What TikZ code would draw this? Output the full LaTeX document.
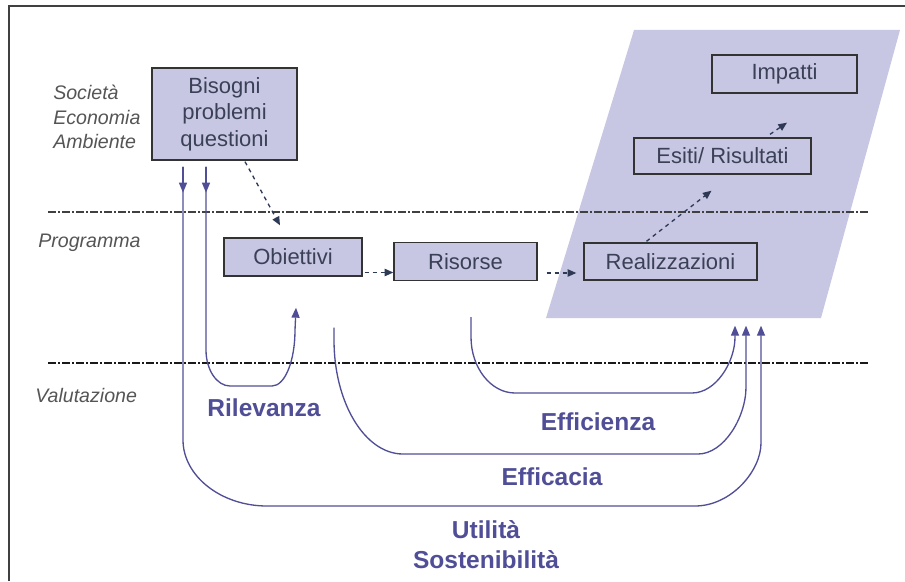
\documentclass[tikz,border=0pt]{standalone}
\usepackage{fontspec}
\setmainfont{Liberation Sans}
\usepackage{xcolor}
\usetikzlibrary{arrows.meta,calc}

\definecolor{boxfill}{RGB}{200,199,227}
\definecolor{boxtext}{RGB}{58,64,86}
\definecolor{flowblue}{RGB}{80,78,150}
\definecolor{labgray}{RGB}{85,85,85}
\definecolor{linkdark}{RGB}{46,58,85}

\begin{document}
\begin{tikzpicture}[x=0.75pt,y=0.75pt,yscale=-1,xscale=1,
  box/.style={draw=black!80,line width=1pt,fill=boxfill,text=boxtext,font=\fontsize{16.5}{20}\selectfont,align=center,inner sep=0pt},
  lab/.style={anchor=west,text=labgray,font=\fontsize{14.7}{18.4}\selectfont\itshape,align=left,inner sep=0pt},
  crit/.style={text=flowblue,font=\fontsize{18.4}{22.5}\selectfont\bfseries,align=center,inner sep=0pt},
  flow/.style={draw=flowblue,line width=1pt},
  flowtip/.style={flow,-{Triangle[length=7.5pt,width=6pt]}},
  link/.style={draw=linkdark,line width=1pt,dashed,-{Triangle[length=6.5pt,width=5.5pt]}},
  level/.style={dash pattern=on 6pt off 1.5pt on 1.5pt off 1.5pt}]
\useasboundingbox (0,0) rectangle (905,581);

%Frame
\draw[line width=2.2pt,draw=black!75] (9,581) -- (9,6) -- (905,6);

%Shape: Parallelogram
\fill[boxfill] (634,30) -- (900,30) -- (821,318) -- (546,318) -- cycle;

%Levels
\draw[level,line width=1pt,draw=black!75] (48,212) -- (868,212);
\draw[level,line width=2pt,draw=black!90] (48,363) -- (868,363);

%Boxes
\node[box,minimum width=108.75pt,minimum height=69pt] (bis) at (224.5,114) {Bisogni\\problemi\\questioni};
\node[box,minimum width=103.5pt,minimum height=28.5pt] (obj) at (293,257) {Obiettivi};
\node[box,minimum width=107.25pt,minimum height=28.5pt] (ris) at (465.5,261.5) {Risorse};
\node[box,minimum width=129.75pt,minimum height=27.75pt] (real) at (670.5,261.5) {Realizzazioni};
\node[box,minimum width=132.75pt,minimum height=27pt] (esiti) at (722.5,156) {Esiti/ Risultati};
\node[box,minimum width=108.75pt,minimum height=28.5pt] (imp) at (784.5,74) {Impatti};

% Text Node
\node[lab] (soc) at (53,117) {Società\\Economia\\Ambiente};
\node[lab] (prog) at (38,243) {Programma};
\node[lab] (val) at (35,395) {Valutazione};

%Dashed links
\draw[link] ($(bis.south)+(20.5,1)$) -- ($(obj.north)+(-13,-12)$);
\draw[link] ($(obj.east)+(2,15.5)$) -- ($(ris.west)+(0,11)$);
\draw[link] ($(ris.east)+(9,11.5)$) -- ($(real.west)+(-7,11.5)$);
\draw[link] ($(real.north)+(-24,-1)$) -- ($(esiti.south)+(-11,16)$);
\draw[link] ($(esiti.north)+(47.5,-3)$) -- ($(imp.south)+(2.5,29)$);

%Curve ends
\coordinate (uTop) at ($(bis.south)+(-41.5,6)$);
\coordinate (rTop) at ($(bis.south)+(-18.5,6)$);
\coordinate (rEnd) at ($(obj.south)+(3,31)$);
\coordinate (eaTop) at ($(obj.south)+(41,51)$);
\coordinate (eiTop) at ($(ris.south)+(5.5,36)$);
\coordinate (eiEnd) at ($(real.south)+(64.5,45)$);
\coordinate (eaEnd) at ($(real.south)+(75.5,45)$);
\coordinate (uEnd) at ($(real.south)+(90.5,45)$);

%Curves
\draw[flowtip] (uTop) -- ++(0,26);
\draw[flowtip] (rTop) -- ++(0,26);
\draw[flowtip] (rTop) -- (206,350) .. controls (206,370) and (217,386) .. (230,386) -- (272,386) .. controls (285,386) and (295,361) .. (295,330) -- (rEnd);
\draw[flowtip] (eiTop) -- (471,337) .. controls (471,368) and (491,393) .. (515,393) -- (692,393) .. controls (716,393) and (735,362) .. (735,337) -- (eiEnd);
\draw[flowtip] (eaTop) -- (334,340) .. controls (334,403) and (365,454) .. (403,454) -- (698,454) .. controls (724,454) and (746,417) .. (746,387) -- (eaEnd);
\draw[flowtip] (uTop) -- (183,440) .. controls (183,476) and (221,506) .. (267,506) -- (695,506) .. controls (731,506) and (761,471) .. (761,443) -- (uEnd);

% Text Node
\node[crit] (rile) at (264,408) {Rilevanza};
\node[crit] (effi) at (598,422) {Efficienza};
\node[crit] (effa) at (552,477) {Efficacia};
\node[crit] (util) at (486,545) {Utilità\\Sostenibilità};

\end{tikzpicture}
\end{document}
